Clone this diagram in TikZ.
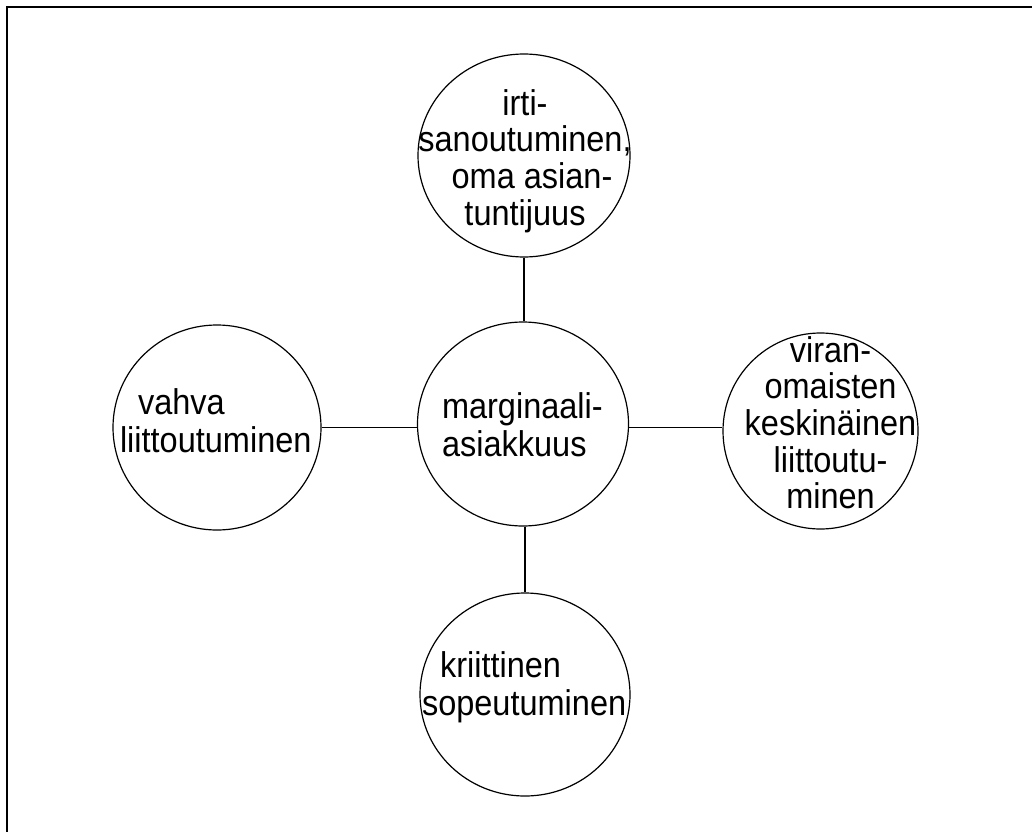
\documentclass[tikz,border=0pt]{standalone}
\usepackage{fontspec}
\usepackage{graphicx}
\setmainfont{Liberation Sans}
\usetikzlibrary{shapes.geometric}
% text is set slightly taller than wide
\newcommand\tallbox[1]{\scalebox{1}[1.1]{#1}}
\begin{document}
\begin{tikzpicture}[x=1pt,y=-1pt,
  bubble/.style={draw, ellipse, line width=1.2pt, inner sep=0pt},
  link/.style={draw, line width=1.2pt},
  words/.style={inner sep=0pt, outer sep=0pt},
  pitchA/.style={font=\fontsize{32.5}{32.7}\selectfont},
  pitchB/.style={font=\fontsize{32.5}{35}\selectfont}]
\useasboundingbox (0,0) rectangle (1032,832);

% frame (open on the right and at the bottom)
\draw[line width=2pt] (1032,7.5) -- (6.5,7.5) -- (6.5,832);

% circles
\node[bubble, minimum width=212pt, minimum height=203pt] (top)    at (524,155.5) {};
\node[bubble, minimum width=211pt, minimum height=204pt] (centre) at (523,424) {};
\node[bubble, minimum width=208pt, minimum height=205pt] (left)   at (217,427.5) {};
\node[bubble, minimum width=195pt, minimum height=196pt] (right)  at (820.5,431) {};
\node[bubble, minimum width=210pt, minimum height=203pt] (bottom) at (525,694.5) {};

% connectors
\draw[link] (top.south) -- (top.south |- centre.north);
\draw[link] (bottom.north |- centre.south) -- (bottom.north);
\draw[link] (left.east) -- (left.east -| centre.west);
\draw[link] (centre.east |- left.east) -- (right.west |- left.east);

% texts
\node[words, pitchA, anchor=base] (ttop) at (525,115)
  {\tallbox{\begin{tabular}[t]{@{}c@{}}irti-\\ sanoutuminen,\\ \hspace*{14pt}oma asian-\\ tuntijuus\end{tabular}}};
\node[words, pitchB, anchor=base west] (tcentre) at (442,418)
  {\tallbox{\begin{tabular}[t]{@{}l@{}}marginaali-\\ asiakkuus\end{tabular}}};
\node[words, pitchB, anchor=base west] (tleft) at (120,414)
  {\tallbox{\begin{tabular}[t]{@{}l@{}}\hspace*{18pt}vahva\\ liittoutuminen\end{tabular}}};
\node[words, pitchA, anchor=base] (tright) at (830.5,362)
  {\tallbox{\begin{tabular}[t]{@{}c@{}}viran-\\ omaisten\\ keskinäinen\\ liittoutu-\\ minen\end{tabular}}};
\node[words, pitchB, anchor=base west] (tbottom) at (422,677)
  {\tallbox{\begin{tabular}[t]{@{}l@{}}\hspace*{18pt}kriittinen\\ sopeutuminen\end{tabular}}};
\end{tikzpicture}
\end{document}
